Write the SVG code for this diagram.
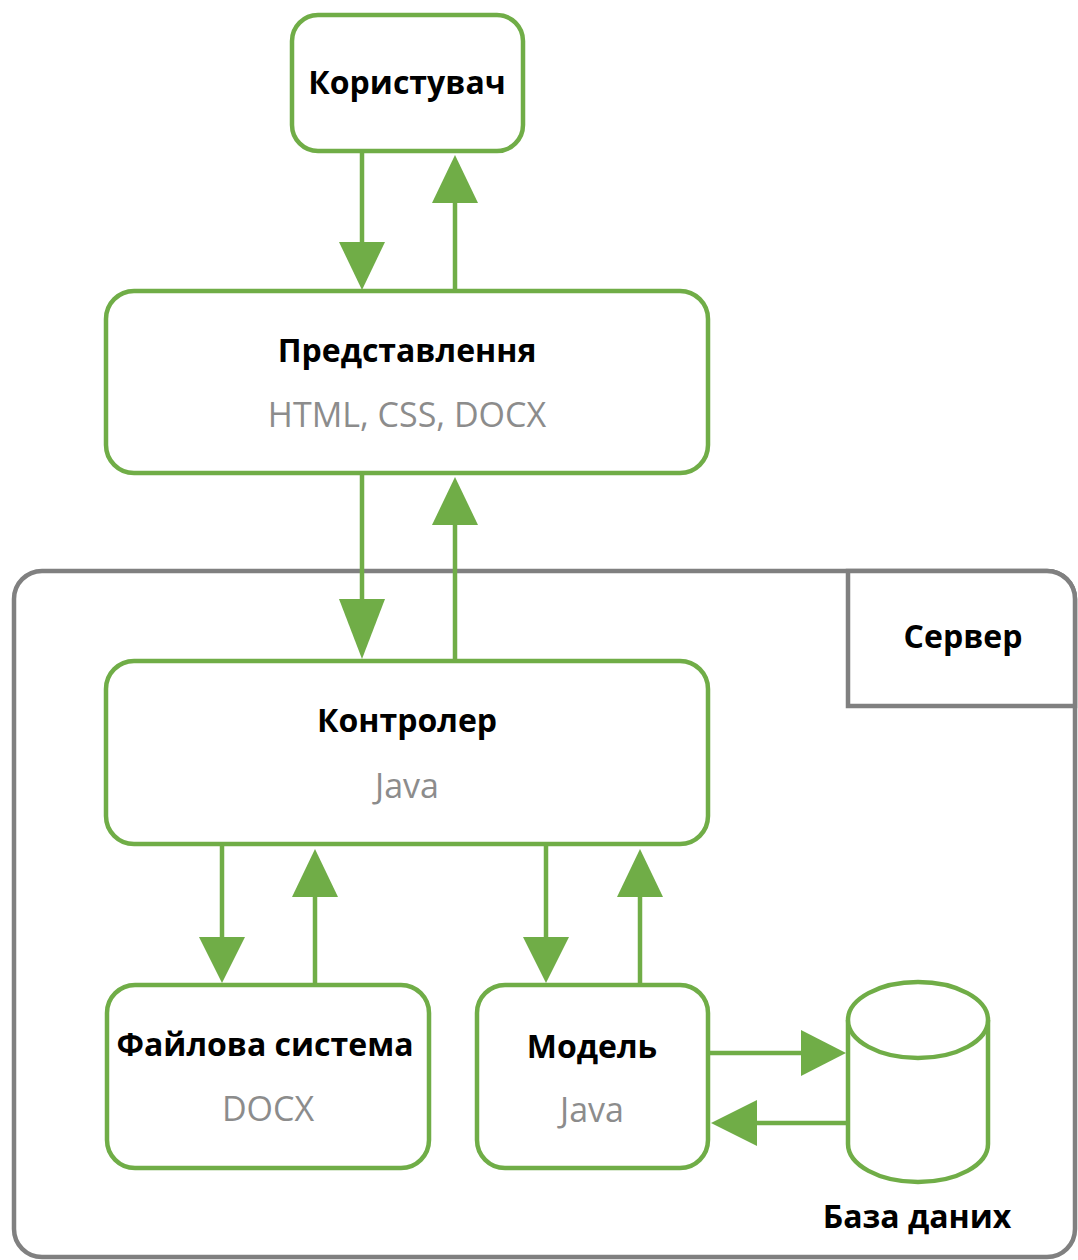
<svg xmlns="http://www.w3.org/2000/svg" width="1078" height="1260" viewBox="0 0 1078 1260">
  <style>
    .box { fill: #ffffff; stroke: #70ad47; stroke-width: 4.5; }
    .srv { fill: #ffffff; stroke: #808080; stroke-width: 4.5; }
    .link { stroke: #70ad47; stroke-width: 4.5; fill: none; }
    .head { fill: #70ad47; }
    .title { font-family: "Open Sans", "Liberation Sans", sans-serif; font-weight: 700; font-size: 32px; fill: #000000; text-anchor: middle; }
    .sub { font-family: "Open Sans", "Liberation Sans", sans-serif; font-weight: 400; font-size: 34px; fill: #8c8c8c; text-anchor: middle; }
  </style>

  <!-- server container -->
  <g id="server">
    <rect class="srv" x="14" y="571" width="1061" height="686" rx="28"/>
    <path class="srv" d="M848 571 H1047 A28 28 0 0 1 1075 599 V706 H848 Z"/>
    <text class="title" x="963" y="648">Сервер</text>
  </g>

  <g id="user">
    <rect class="box" x="292" y="15" width="231" height="136" rx="26"/>
    <text class="title" x="407" y="94">Користувач</text>
  </g>

  <g id="view">
    <rect class="box" x="106" y="291" width="602" height="182" rx="28"/>
    <text class="title" x="407" y="362">Представлення</text>
    <text class="sub" x="407" y="427">HTML, CSS, DOCX</text>
  </g>

  <g id="controller">
    <rect class="box" x="106" y="661" width="602" height="183" rx="28"/>
    <text class="title" x="407" y="732">Контролер</text>
    <text class="sub" x="407" y="798">Java</text>
  </g>

  <g id="filesystem">
    <rect class="box" x="107" y="985" width="322" height="183" rx="28"/>
    <text class="title" x="265" y="1056">Файлова система</text>
    <text class="sub" x="268" y="1121">DOCX</text>
  </g>

  <g id="model">
    <rect class="box" x="477" y="985" width="231" height="183" rx="28"/>
    <text class="title" x="592" y="1058">Модель</text>
    <text class="sub" x="592" y="1122">Java</text>
  </g>

  <g id="database">
    <path class="box" d="M848 1020 V1144 A70 38 0 0 0 988 1144 V1020"/>
    <ellipse class="box" cx="918" cy="1020" rx="70" ry="38"/>
    <text class="title" x="917" y="1228">База даних</text>
  </g>

  <g id="connectors">
    <!-- user <-> view -->
    <line class="link" x1="362" y1="151" x2="362" y2="245"/>
    <polygon class="head" points="339,242 385,242 362,290"/>
    <line class="link" x1="455" y1="291" x2="455" y2="200"/>
    <polygon class="head" points="432,203 478,203 455,155"/>

    <!-- view <-> controller -->
    <line class="link" x1="362" y1="473" x2="362" y2="602"/>
    <polygon class="head" points="339,599 385,599 362,659"/>
    <line class="link" x1="455" y1="661" x2="455" y2="522"/>
    <polygon class="head" points="432,525 478,525 455,477"/>

    <!-- controller <-> file system -->
    <line class="link" x1="222" y1="844" x2="222" y2="940"/>
    <polygon class="head" points="199,937 245,937 222,983"/>
    <line class="link" x1="315" y1="985" x2="315" y2="894"/>
    <polygon class="head" points="292,897 338,897 315,849"/>

    <!-- controller <-> model -->
    <line class="link" x1="546" y1="844" x2="546" y2="940"/>
    <polygon class="head" points="523,937 569,937 546,983"/>
    <line class="link" x1="640" y1="985" x2="640" y2="894"/>
    <polygon class="head" points="617,897 663,897 640,849"/>

    <!-- model <-> database -->
    <line class="link" x1="708" y1="1053" x2="804" y2="1053"/>
    <polygon class="head" points="801,1030 801,1076 846,1053"/>
    <line class="link" x1="848" y1="1123" x2="754" y2="1123"/>
    <polygon class="head" points="757,1100 757,1146 711,1123"/>
  </g>
</svg>
